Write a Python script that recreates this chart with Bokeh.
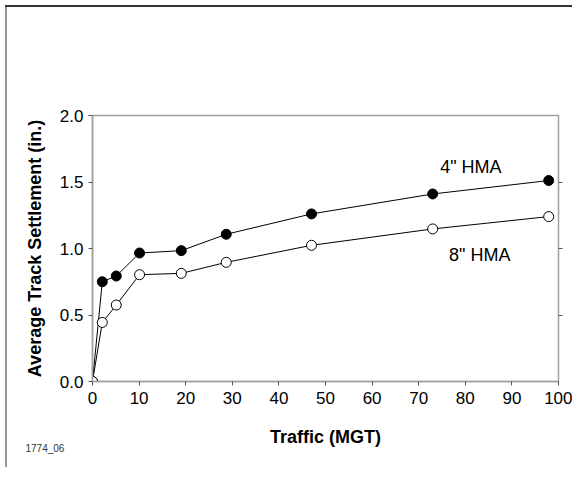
from bokeh.plotting import figure
from bokeh.models import (LinearAxis, FixedTicker, Range1d, Label, Title,
                          PrintfTickFormatter)
from bokeh.embed import file_html
from bokeh.resources import INLINE

# Data
traffic = [0, 2.1, 5.1, 10.1, 19.05, 28.7, 47.0, 73.0, 97.9]
hma4 = [0.0, 0.75, 0.793, 0.966, 0.984, 1.107, 1.26, 1.41, 1.511]
hma8 = [0.0, 0.444, 0.575, 0.803, 0.813, 0.896, 1.024, 1.147, 1.24]
x_ticks = [0, 10, 20, 30, 40, 50, 60, 70, 80, 90, 100]
y_ticks = [0.0, 0.5, 1.0, 1.5, 2.0]
series_labels = ['4" HMA', '8" HMA']
label_pos_x = [81.2, 83.1]
label_pos_y = [1.616, 0.954]
x_title = "Traffic (MGT)"
y_title = "Average Track Settlement (in.)"
fig_id = "1774_06"

FONT = "Liberation Sans"

p = figure(width=572, height=467, output_backend="svg", toolbar_location=None,
           x_range=Range1d(0, 100), y_range=Range1d(0, 2),
           min_border_left=92, min_border_right=14, min_border_top=115,
           min_border_bottom=86, background_fill_color="white",
           border_fill_color="white", border_fill_alpha=0,
           styles={"box-shadow": "inset 0 5px 0 #ffffff, inset 5px 0 0 #ffffff, "
                                 "inset 0 7px 0 #333333, inset 7px 0 0 #999999"})
p.grid.visible = False
p.outline_line_color = "#a0a0a0"
p.outline_line_width = 1.5

for ax in (p.xaxis[0], p.yaxis[0]):
    ax.axis_line_color = "#a0a0a0"
    ax.axis_line_width = 1.5
    ax.major_tick_line_color = "#555555"
    ax.major_tick_out = 4
    ax.major_tick_in = 0
    ax.minor_tick_line_color = None
    ax.major_label_text_font = FONT
    ax.major_label_text_font_size = "17px"
    ax.major_label_text_color = "black"
    ax.axis_label_text_font = FONT
    ax.axis_label_text_font_style = "bold"
    ax.axis_label_text_font_size = "18px"
    ax.axis_label_text_color = "black"

p.xaxis[0].ticker = FixedTicker(ticks=x_ticks)
p.yaxis[0].ticker = FixedTicker(ticks=y_ticks)
p.yaxis[0].formatter = PrintfTickFormatter(format="%.1f")
p.xaxis[0].axis_label = x_title
p.yaxis[0].axis_label = y_title
p.xaxis[0].major_label_standoff = 6
p.yaxis[0].major_label_standoff = 5
p.xaxis[0].axis_label_standoff = 20
p.yaxis[0].axis_label_standoff = 12

right = LinearAxis(ticker=FixedTicker(ticks=y_ticks[1:-1]))
right.axis_line_color = None
right.major_tick_line_color = "#555555"
right.major_tick_out = 4
right.major_tick_in = 0
right.minor_tick_line_color = None
right.major_label_standoff = 0
right.major_label_text_font_size = "0px"
p.add_layout(right, "right")

# series
p.line(traffic, hma4, line_color="black", line_width=1)
p.scatter(traffic, hma4, size=10, marker="circle", fill_color="black",
          line_color="black", line_width=1)
p.line(traffic, hma8, line_color="black", line_width=1)
p.scatter(traffic, hma8, size=10, marker="circle", fill_color="white",
          line_color="black", line_width=1)

for t, lx, ly in zip(series_labels, label_pos_x, label_pos_y):
    p.add_layout(Label(x=lx, y=ly, text=t, text_font=FONT, text_font_size="18px",
                       text_align="center", text_baseline="middle",
                       text_color="black"))

p.add_layout(Title(text=fig_id, text_font=FONT, text_font_size="10px",
                   text_font_style="normal", text_color="#333333",
                   align="left", offset=-67, standoff=-13,
                   vertical_align="top"), "below")

open("out.html", "w").write(file_html(p, INLINE))
